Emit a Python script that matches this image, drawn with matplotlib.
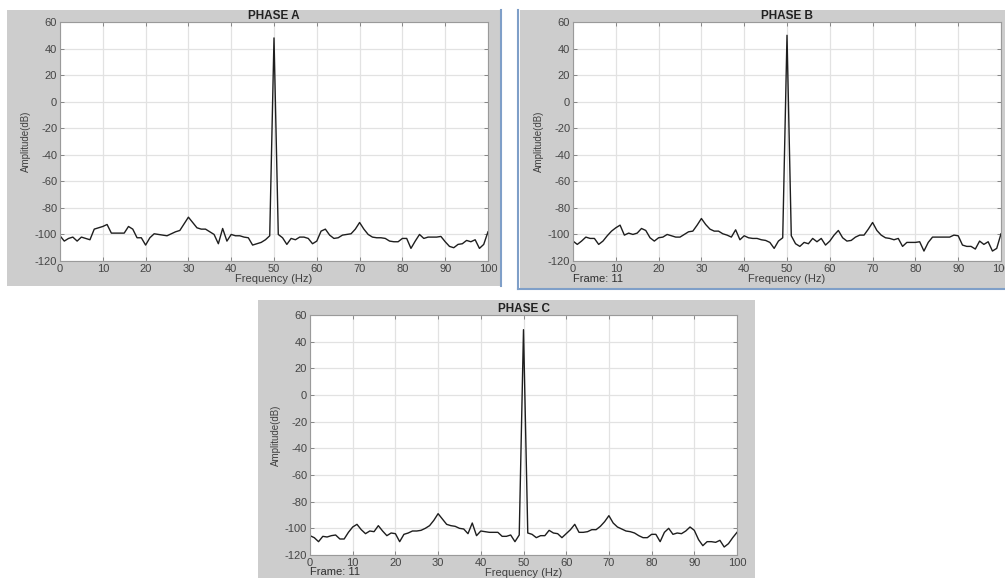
import matplotlib
matplotlib.use("Agg")
import matplotlib.pyplot as plt
from matplotlib.patches import Rectangle
from matplotlib.lines import Line2D
import numpy as np

plt.rcParams['font.family'] = ['Liberation Sans', 'DejaVu Sans']
plt.rcParams['axes.unicode_minus'] = False

# frequency bins (Hz)
freq = np.arange(0, 101)

# spectrum, dB
phase_a = [-101, -105, -103, -102, -105, -102, -103, -104, -96, -95,
           -94, -92.5, -99, -99, -99, -99, -94, -96, -102.5, -102.5,
           -108, -102.5, -99.5, -100, -100.5, -101, -99.5, -98, -97, -92,
           -87, -91, -95, -96, -96, -98, -100, -107, -95.5, -105,
           -100, -101, -101, -102, -102.5, -108, -107, -106, -104, -101,
           48, -100, -102.5, -107.5, -103, -104, -102, -102, -103, -107,
           -105, -97.5, -96, -100.5, -103, -102.5, -100.5, -100, -99.5, -96,
           -91, -96, -100, -102, -102.5, -102.5, -103, -105, -105.5, -105.5,
           -103, -103, -110.5, -105, -100, -103, -102, -102, -102, -101.5,
           -105.5, -109, -110, -107.5, -107, -104.5, -105.5, -104, -110.5, -107.5,
           -98]

phase_b = [-105, -107.5, -105, -102, -103, -103, -107.5, -105, -101, -97.5,
           -95, -93, -100.5, -99, -100, -99, -95.5, -97, -102.5, -105,
           -102.5, -102, -100, -101, -102, -102, -100, -98, -97.5, -93,
           -88, -92.5, -96, -97.5, -97.5, -99.5, -100.5, -102, -96.5, -104,
           -101, -102.5, -103, -103, -104, -104.5, -106, -110.5, -105, -102.5,
           50, -101, -107, -109, -106, -107, -103, -105.5, -103, -108,
           -105, -100.5, -97, -102.5, -105, -104.5, -102, -100.5, -100.5, -96,
           -91, -97, -100.5, -102.5, -103, -104, -103, -109, -106, -106,
           -106, -105.5, -112.5, -106, -102, -102, -102, -102, -102, -100.5,
           -101, -108, -109, -109, -111, -105, -107.5, -105.5, -112.5, -110.5,
           -99.5]

phase_c = [-105.5, -107, -110, -106, -106.5, -105.5, -105, -108, -108, -103,
           -99, -97, -101, -104, -102, -102.5, -98, -102, -105.5, -103.5,
           -104, -110, -104.5, -103.5, -102, -102, -101.5, -100, -98, -94,
           -89, -93, -97, -98, -98.5, -100, -100.5, -104, -96, -105.5,
           -102, -102.5, -103, -103, -103, -106, -106, -105, -110, -105,
           49, -103.5, -104.5, -107, -105.5, -105.5, -101.5, -103.5, -104, -107,
           -104, -101, -97, -103, -103, -102.5, -101, -101, -98.5, -95,
           -90.5, -96, -99, -100.5, -102, -102.5, -103.5, -105.5, -107, -107,
           -104.5, -104.5, -110, -103, -100, -104.5, -103.5, -104, -102, -99,
           -101.5, -108.5, -113, -110, -110, -110.5, -109, -114, -111.5, -107,
           -103]

titles = ["PHASE A", "PHASE B", "PHASE C"]
yticks = [-120, -100, -80, -60, -40, -20, 0, 20, 40, 60]
xticks = [0, 10, 20, 30, 40, 50, 60, 70, 80, 90, 100]

W, H = 1005, 578
fig = plt.figure(figsize=(W / 100, H / 100), dpi=100)
fig.patch.set_facecolor('white')


def px_rect(x0, y0, x1, y1):
    # pixel box (top-left origin) -> figure fraction [l, b, w, h]
    return [x0 / W, 1 - y1 / H, (x1 - x0) / W, (y1 - y0) / H]


GRAY = '#cdcdcd'
BLUE = '#7f9fc8'

# panel backgrounds (behind the axes)
for (x0, y0, x1, y1) in [(7, 10, 500, 286), (520, 10, 1005, 288), (258, 300, 755, 578)]:
    l, b, w, h = px_rect(x0, y0, x1, y1)
    fig.patches.append(Rectangle((l, b), w, h, transform=fig.transFigure,
                                 facecolor=GRAY, edgecolor='none', zorder=-10))

# window borders
fig.lines.append(Line2D([501 / W, 501 / W], [1 - 286 / H, 1 - 10 / H], transform=fig.transFigure,
                        color=BLUE, lw=1.5, zorder=-5))
fig.lines.append(Line2D([518 / W, 518 / W], [1 - 289 / H, 1 - 10 / H], transform=fig.transFigure,
                        color=BLUE, lw=1.5, zorder=-5))
fig.lines.append(Line2D([518 / W, 1], [1 - 289 / H, 1 - 289 / H], transform=fig.transFigure,
                        color=BLUE, lw=1.5, zorder=-5))

boxes = [(60, 22, 488, 261), (573, 22, 1001, 261), (310, 315, 737, 555)]
frame_y = [None, -0.075, -0.072]
data = [phase_a, phase_b, phase_c]

for i in range(3):
    ax = fig.add_axes(px_rect(*boxes[i]))
    ax.set_facecolor('white')
    ax.plot(freq, data[i], color='#1e1e1e', lw=1.0)
    ax.set_xlim(0, 100)
    ax.set_ylim(-120, 60)
    ax.set_xticks(xticks)
    ax.set_yticks(yticks)
    ax.grid(True, color='#e2e2e2', lw=0.9)
    ax.set_axisbelow(True)
    ax.tick_params(direction='in', top=True, right=True, length=3, width=0.6,
                   colors='#777777', labelcolor='#454545', labelsize=8, pad=2)
    for s in ax.spines.values():
        s.set_color('#9a9a9a')
        s.set_linewidth(0.8)
    ax.set_title(titles[i], fontsize=8.5, fontweight='bold', color='#222222', pad=2)
    ax.set_ylabel('Amplitude(dB)', fontsize=7, color='#404040', labelpad=3)
    ax.set_xlabel('Frequency (Hz)', fontsize=8, color='#404040', labelpad=0)
    if frame_y[i] is not None:
        ax.text(0.0, frame_y[i], 'Frame: 11', transform=ax.transAxes, fontsize=8,
                color='#303030', ha='left', va='center')

fig.savefig('out.png', dpi=100)
